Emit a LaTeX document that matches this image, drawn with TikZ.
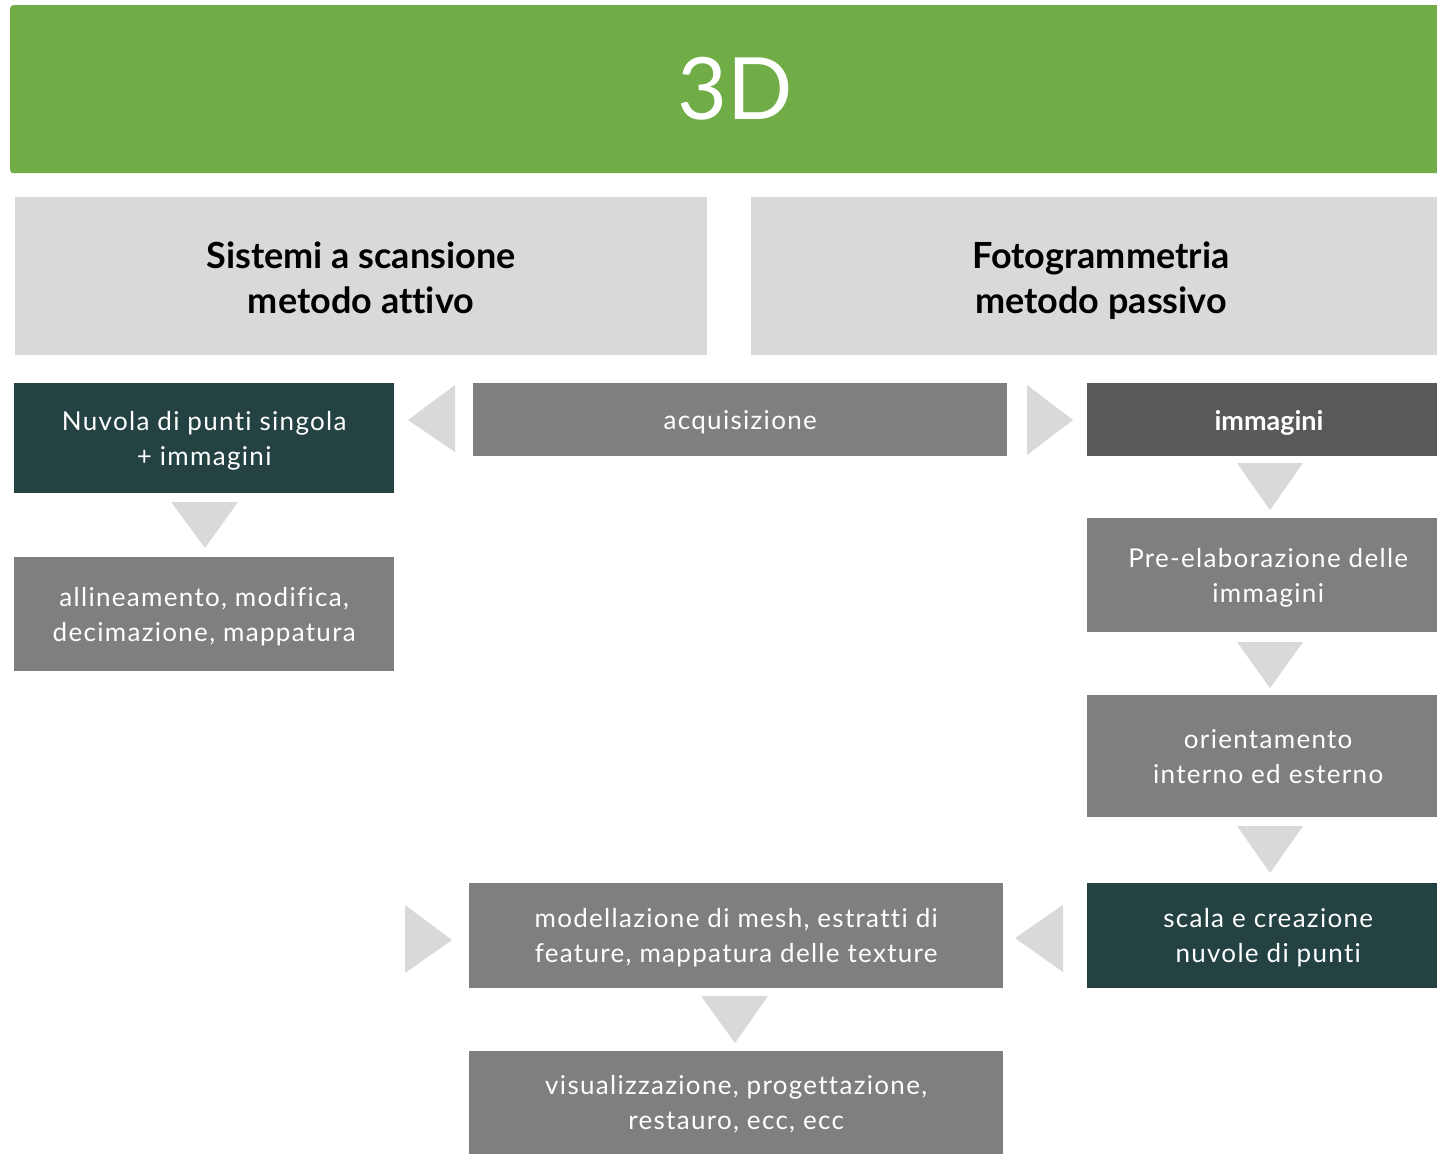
\documentclass[tikz,border=0pt]{standalone}
\usepackage{fontspec}
\setmainfont[Ligatures=NoCommon]{Lato}
\newfontfamily\bodyfont[LetterSpace=5,Ligatures=NoCommon]{Lato}
\definecolor{hgreen}{HTML}{70AD47}
\definecolor{lgray}{HTML}{D9D9D9}
\definecolor{mgray}{HTML}{7F7F7F}
\definecolor{dgray}{HTML}{595959}
\definecolor{teal}{HTML}{234241}
\begin{document}
\begin{tikzpicture}[x=1pt,y=-1pt,
  box/.style={rectangle, anchor=north west, inner sep=0pt, align=center, text=white,
    font=\bodyfont\fontsize{26}{35}\selectfont, text depth=0pt},
  hdr/.style={rectangle, anchor=north west, inner sep=0pt, align=center, fill=lgray,
    text=black, font=\fontsize{36}{45}\selectfont\bfseries},
  chev/.style={fill=lgray, draw=none}]
\useasboundingbox (0,0) rectangle (1437,1154);
\fill[white] (0,0) rectangle (1437,1154);
% header
\node[rectangle, anchor=north west, inner sep=0pt, fill=hgreen, rounded corners=3pt,
  minimum width=1431pt, minimum height=168pt] (top) at (10,5) {};
\node[text=white, font=\fontsize{86}{90}\selectfont, inner sep=0pt] (t3d) at (735,89) {3D};
% method boxes
\node[hdr, minimum width=692pt, minimum height=158pt] (scan) at (15,197) {};
\node[hdr, minimum width=686pt, minimum height=158pt] (foto) at (751,197) {};
\node[hdr, fill=none, anchor=center] (scant) at (361,278) {Sistemi a scansione\\metodo attivo};
\node[hdr, fill=none, anchor=center] (fotot) at (1101,281) {Fotogrammetria\\metodo passivo};
% left column
\node[box, fill=teal, minimum width=380pt, minimum height=110pt] (nuv) at (14,383) {Nuvola di punti singola\\+ immagini};
\node[box, fill=mgray, minimum width=380pt, minimum height=114pt] (all) at (14,557) {allineamento, modifica,\\decimazione, mappatura};
% middle
\node[box, fill=mgray, minimum width=534pt, minimum height=73pt] (acq) at (473,383) {acquisizione};
\node[box, fill=mgray, minimum width=534pt, minimum height=105pt] (mod) at (469,883) {modellazione di mesh, estratti di\\feature, mappatura delle texture};
\node[box, fill=mgray, minimum width=534pt, minimum height=103pt] (vis) at (469,1051) {visualizzazione, progettazione,\\restauro, ecc, ecc};
% right column
\node[box, fill=dgray, minimum width=350pt, minimum height=73pt] (img) at (1087,383) {};
\node[box, fill=mgray, minimum width=350pt, minimum height=114pt] (pre) at (1087,518) {};
\node[box, fill=mgray, minimum width=350pt, minimum height=122pt] (ori) at (1087,695) {};
\node[box, fill=teal, minimum width=350pt, minimum height=105pt] (sca) at (1087,883) {};
\node[box, anchor=center, font=\fontsize{27}{35}\selectfont\bfseries] (imgt) at (1269,420) {immagini};
\node[box, anchor=center] (pret) at ([xshift=6pt]pre.center) {Pre-elaborazione delle\\immagini};
\node[box, anchor=center] (orit) at ([xshift=6pt]ori.center) {orientamento\\interno ed esterno};
\node[box, anchor=center] (scat) at ([xshift=6pt]sca.center) {scala e creazione\\nuvole di punti};
% chevrons
\fill[chev] (455,385) -- (408,420) -- (455,452) -- cycle;
\fill[chev] (1027,385) -- (1073,420) -- (1027,455) -- cycle;
\fill[chev] (171,502) -- (238,502) -- (205,548) -- cycle;
\fill[chev] (1237,463) -- (1303,463) -- (1270,510) -- cycle;
\fill[chev] (1237,642) -- (1303,642) -- (1270,688) -- cycle;
\fill[chev] (1237,826) -- (1303,826) -- (1270,873) -- cycle;
\fill[chev] (1063,905) -- (1015,938) -- (1063,972) -- cycle;
\fill[chev] (405,905) -- (452,940) -- (405,973) -- cycle;
\fill[chev] (701,996) -- (768,996) -- (735,1043) -- cycle;
\end{tikzpicture}
\end{document}
